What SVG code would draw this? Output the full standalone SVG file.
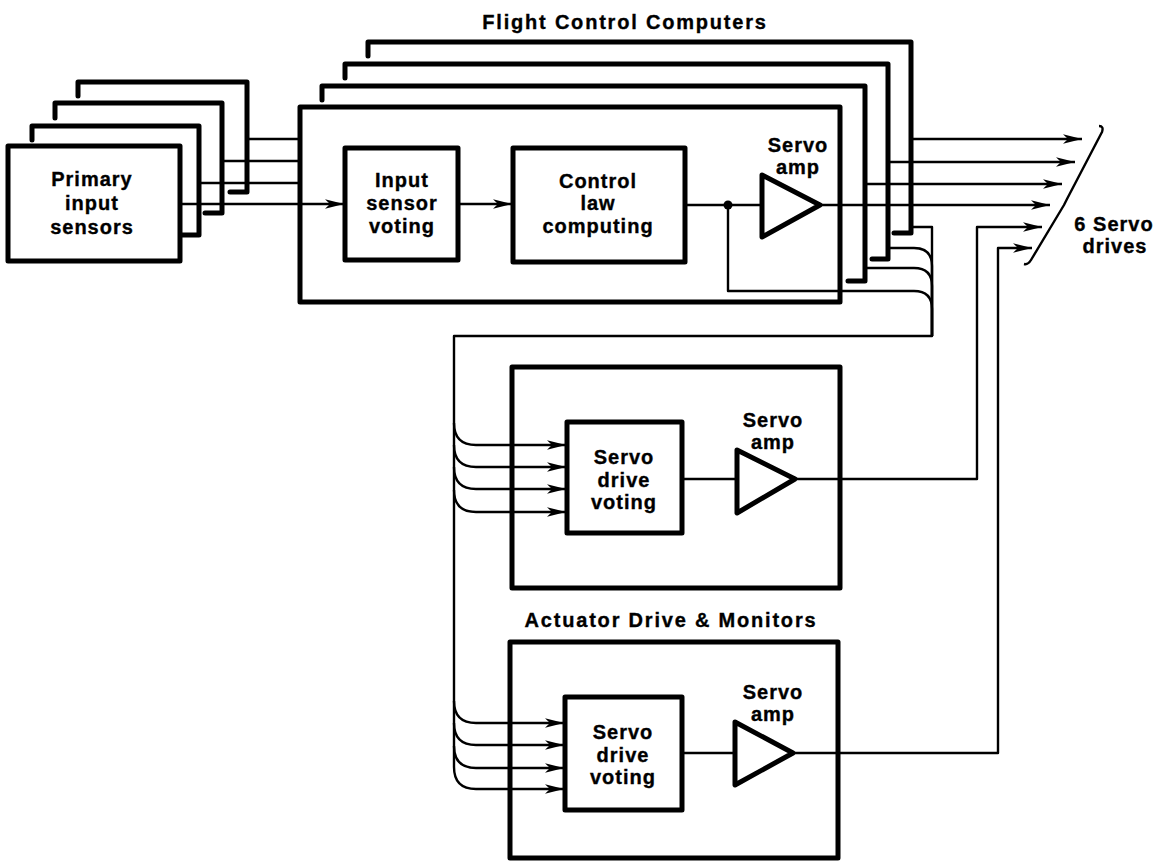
<svg xmlns="http://www.w3.org/2000/svg" width="1159" height="864" viewBox="0 0 1159 864">
<defs>
<style>
.bg{fill:#fff}
.thick{fill:none;stroke:#000;stroke-width:5;stroke-linejoin:round;stroke-linecap:round}
.thin{fill:none;stroke:#000;stroke-width:2.4;stroke-linejoin:round}
.arr{marker-end:url(#ah)}
text{font-family:"Liberation Sans",Arial,Helvetica,sans-serif;font-weight:bold;font-size:20px;letter-spacing:1px;text-anchor:middle;fill:#000;stroke:#000;stroke-width:0.35}
.title{letter-spacing:1.8px}
</style>
<marker id="ah" markerUnits="userSpaceOnUse" markerWidth="22" markerHeight="14" refX="19" refY="7" orient="auto">
<path d="M0,2.2 L19,7 L0,11.8 L5,7 z" fill="#000"/>
</marker>
</defs>
<rect class="bg" x="0" y="0" width="1159" height="864"/>

<g id="connectors">
<!-- sensor outputs -->
<path class="thin" d="M247,139 H300"/>
<path class="thin" d="M222,161 H300"/>
<path class="thin" d="M199,183 H300"/>
<path class="thin arr" d="M180,204 H344"/>
<path class="thin arr" d="M458,204 H512"/>
<path class="thin" d="M685,205 H762"/>
<!-- FCC outputs to servo drives -->
<path class="thin arr" d="M911,139 H1082"/>
<path class="thin arr" d="M888,162 H1075"/>
<path class="thin arr" d="M865,184 H1062"/>
<path class="thin arr" d="M820,205 H1050"/>
<path class="thin arr" d="M795,479 H977 V227 H1042"/>
<path class="thin arr" d="M793,753 H998 V248 H1032"/>
<!-- feedback bundle -->
<path class="thin" d="M888,248 H914 Q932,248 932,266 V336"/>
<path class="thin" d="M865,268 H914 Q932,268 932,286 V336"/>
<path class="thin" d="M728,205 V291 H914 Q932,291 932,309 V336"/>
<path class="thin" d="M911,227 H932 V336 H454 V767"/>
<!-- branches into middle voting -->
<path class="thin arr" d="M454,423 Q454,445 476,445 H566"/>
<path class="thin arr" d="M454,445 Q454,467 476,467 H566"/>
<path class="thin arr" d="M454,467 Q454,489 476,489 H566"/>
<path class="thin arr" d="M454,490 Q454,512 476,512 H566"/>
<!-- branches into bottom voting -->
<path class="thin arr" d="M454,701 Q454,723 476,723 H564"/>
<path class="thin arr" d="M454,723 Q454,745 476,745 H564"/>
<path class="thin arr" d="M454,746 Q454,768 476,768 H564"/>
<path class="thin arr" d="M454,767 Q454,789 476,789 H564"/>
<circle cx="728" cy="205" r="4.5" fill="#000"/>
</g>

<g id="sensors">
<path class="thick" d="M78,96 V82 H247 V192 H230"/>
<path class="thick" d="M55,118 V103 H222 V213 H205"/>
<path class="thick" d="M32,140 V126 H199 V235 H182"/>
<rect class="thick" x="8" y="146" width="172" height="115"/>
<text x="92" y="186">Primary</text>
<text x="92" y="210">input</text>
<text x="92" y="234">sensors</text>
</g>

<g id="fcc">
<text class="title" x="625" y="29">Flight Control Computers</text>
<path class="thick" d="M368,56 V42 H911 V233 H894"/>
<path class="thick" d="M345,78 V64 H888 V259 H872"/>
<path class="thick" d="M322,100 V86 H865 V281 H848"/>
<rect class="thick" x="300" y="107" width="540" height="195"/>
</g>

<g id="input-voting">
<rect class="thick" x="345" y="148" width="113" height="112"/>
<text x="402" y="187">Input</text>
<text x="402" y="210">sensor</text>
<text x="402" y="233">voting</text>
</g>

<g id="control-law">
<rect class="thick" x="513" y="148" width="172" height="114"/>
<text x="598" y="188">Control</text>
<text x="598" y="210">law</text>
<text x="598" y="233">computing</text>
</g>

<g id="fcc-amp">
<polygon class="thick" points="762,175 820,205 762,237"/>
<text x="798" y="152">Servo</text>
<text x="798" y="174">amp</text>
</g>

<g id="actuator-1">
<rect class="thick" x="512" y="367" width="328" height="221"/>
</g>
<g id="actuator-1-voting">
<rect class="thick" x="567" y="422" width="115" height="111"/>
<text x="624" y="464">Servo</text>
<text x="624" y="487">drive</text>
<text x="624" y="509">voting</text>
</g>
<g id="actuator-1-amp">
<path class="thin" d="M682,479 H737"/>
<polygon class="thick" points="737,450 795,479 737,513"/>
<text x="773" y="427">Servo</text>
<text x="773" y="449">amp</text>
</g>

<g id="actuator-2">
<text class="title" x="671" y="627">Actuator Drive &amp; Monitors</text>
<rect class="thick" x="510" y="642" width="328" height="216"/>
</g>
<g id="actuator-2-voting">
<rect class="thick" x="565" y="697" width="117" height="113"/>
<text x="623" y="739">Servo</text>
<text x="623" y="762">drive</text>
<text x="623" y="784">voting</text>
</g>
<g id="actuator-2-amp">
<path class="thin" d="M682,753 H735"/>
<polygon class="thick" points="735,722 793,753 735,785"/>
<text x="773" y="699">Servo</text>
<text x="773" y="721">amp</text>
</g>

<g id="servo-drives">
<path class="thin" d="M1099,126 Q1104,126 1102,132 L1067,199 L1064,205 L1031,260 Q1028,265 1024,264"/>
<text x="1114" y="231">6 Servo</text>
<text x="1115" y="253">drives</text>
</g>
</svg>
